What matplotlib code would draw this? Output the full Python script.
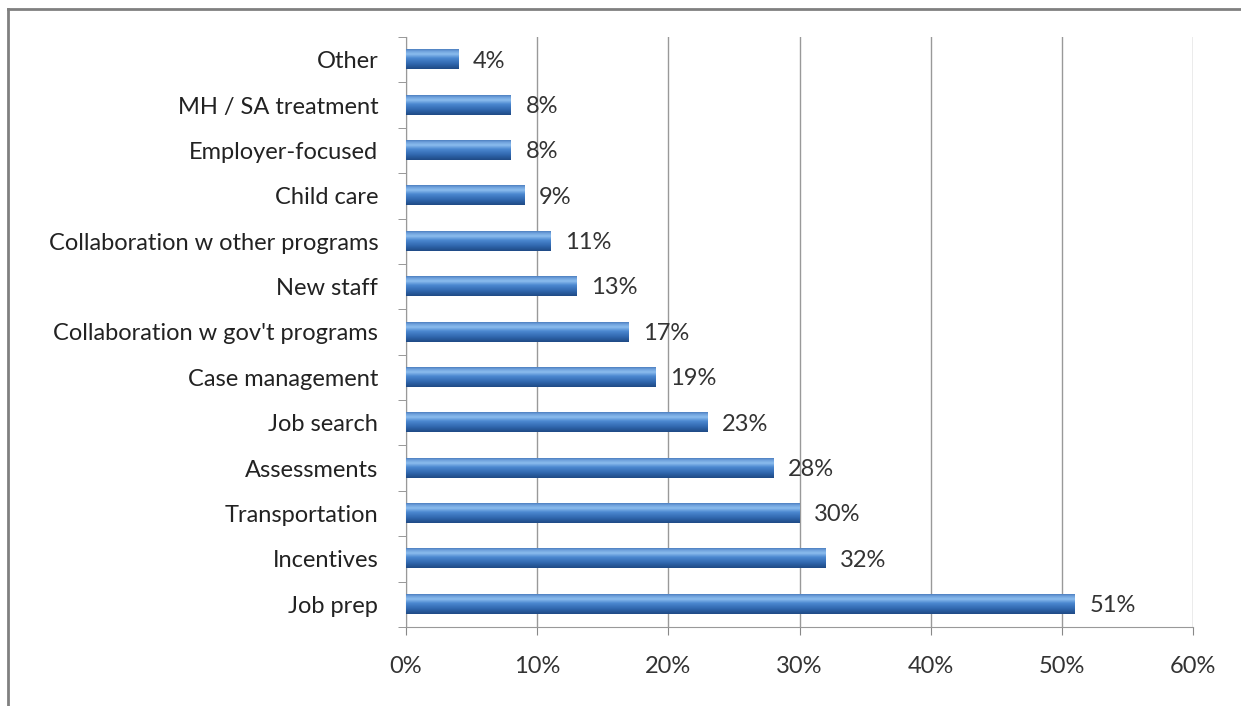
import numpy as np
import matplotlib.pyplot as plt
from matplotlib.lines import Line2D
from matplotlib.colors import LinearSegmentedColormap

categories = ['Job prep', 'Incentives', 'Transportation', 'Assessments', 'Job search',
              'Case management', "Collaboration w gov't programs", 'New staff',
              'Collaboration w other programs', 'Child care', 'Employer-focused',
              'MH / SA treatment', 'Other']
values = [51, 32, 30, 28, 23, 19, 17, 13, 11, 9, 8, 8, 4]
xticks = [0, 10, 20, 30, 40, 50, 60]

plt.rcParams['font.family'] = ['Lato', 'DejaVu Sans']

fig = plt.figure(figsize=(12.41, 7.06), dpi=100)
ax = fig.add_axes([0.3272, 0.1119, 0.6341, 0.8357])

y = np.arange(len(categories))
bars = ax.barh(y, values, height=0.42, color='#2F66AD', zorder=3)

# cylinder-like vertical shading (bottom -> top)
cyl = LinearSegmentedColormap.from_list('cyl', [
    (0.0, '#1F4A85'), (0.25, '#2F66AD'), (0.55, '#4C88D0'),
    (0.75, '#8CBDEE'), (0.9, '#6FA2DD'), (1.0, '#4E80C0')])
grad = np.linspace(0, 1, 64).reshape(-1, 1)
for b in bars:
    x0, y0, w, hh = b.get_x(), b.get_y(), b.get_width(), b.get_height()
    ax.imshow(grad, extent=[x0, x0 + w, y0, y0 + hh], origin='lower',
              aspect='auto', cmap=cyl, zorder=4)

for yi, v in zip(y, values):
    ax.text(v + 1.1, yi - 0.03, f'{v}%', va='center', ha='left', fontsize=17, color='#333333')

ax.set_xlim(0, 60)
ax.set_ylim(-0.5, len(categories) - 0.5)
ax.set_aspect('auto')
ax.set_xticks(xticks)
ax.set_xticklabels([f'{t}%' for t in xticks], fontsize=17, color='#333333')
ax.set_yticks(y)
ax.set_yticklabels(categories, fontsize=17, color='#222222')
ax.tick_params(axis='y', length=0, pad=20)
ax.set_yticks(np.arange(-0.5, len(categories), 1), minor=True)
ax.tick_params(axis='y', which='minor', length=6, color='#888888', direction='out')
ax.tick_params(axis='x', length=6, color='#888888', pad=15)

ax.grid(axis='x', color='#999999', linewidth=1, zorder=0)
for s in ['top', 'right']:
    ax.spines[s].set_visible(False)
for s in ['left', 'bottom']:
    ax.spines[s].set_color('#999999')

# outer chart border (left and top visible)
fig.add_artist(Line2D([8 / 1241, 8 / 1241], [0, 1 - 9 / 706], transform=fig.transFigure,
                      color='#808080', linewidth=2))
fig.add_artist(Line2D([8 / 1241, 1], [1 - 9 / 706, 1 - 9 / 706], transform=fig.transFigure,
                      color='#808080', linewidth=2))

fig.savefig('out.png', dpi=100)
